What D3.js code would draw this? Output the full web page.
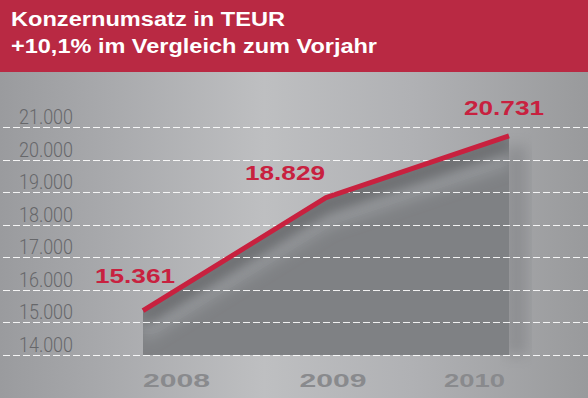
<!DOCTYPE html>
<html>
<head>
<meta charset="utf-8">
<script src="https://cdn.jsdelivr.net/npm/d3@7"></script>
<style>
  html, body { margin: 0; padding: 0; background: #fff; }
  svg { display: block; }
</style>
</head>
<body>
<figure id="chart" style="margin:0"></figure>
<script>
// data
const years = ["2008", "2009", "2010"];
const revenue = [15361, 18829, 20731];
const yTicks = [14000, 15000, 16000, 17000, 18000, 19000, 20000, 21000];
const titleLines = ["Konzernumsatz in TEUR", "+10,1% im Vergleich zum Vorjahr"];

const width = 588, height = 398;
const de = d3.formatLocale({ decimal: ",", thousands: ".", grouping: [3], currency: ["", " €"] });
const fmt = de.format(",d");

const svg = d3.select("#chart").append("svg")
  .attr("width", width).attr("height", height);

const defs = svg.append("defs");
const bg = defs.append("linearGradient").attr("id", "bg")
  .attr("x1", 0).attr("x2", 1).attr("y1", 0).attr("y2", 0);
[[0, "#9a9b9e"], [0.18, "#a8a9ac"], [0.45, "#bebfc1"], [0.7, "#b0b1b4"], [1, "#999a9c"]]
  .forEach(s => bg.append("stop").attr("offset", s[0]).attr("stop-color", s[1]));

defs.append("filter").attr("id", "blur").attr("x", "-20%").attr("y", "-50%")
  .attr("width", "140%").attr("height", "200%")
  .append("feGaussianBlur").attr("stdDeviation", 7);

svg.append("rect").attr("width", width).attr("height", height).attr("fill", "url(#bg)");

// scales
const x = d3.scalePoint().domain(years).range([143, 509]);
const y = d3.scaleLinear().domain([14000, 21000]).range([355, 127]);

const pts = years.map((yr, i) => ({ year: yr, value: revenue[i] }));

// area
const area = d3.area().x(d => x(d.year)).y0(y(14000)).y1(d => y(d.value));
const line = d3.line().x(d => x(d.year)).y(d => y(d.value));

defs.append("clipPath").attr("id", "areaClip")
  .append("path").attr("d", area(pts));

// shadow right of the area
svg.append("rect")
  .attr("x", x("2010") - 4).attr("y", y(20731) + 10)
  .attr("width", 22).attr("height", y(14000) - y(20731) - 10)
  .attr("fill", "#6f7174").attr("opacity", 0.4)
  .attr("filter", "url(#blur)");

svg.append("path").attr("d", area(pts)).attr("fill", "#7f8184");

const shade = svg.append("g").attr("clip-path", "url(#areaClip)");
shade.append("path")
  .attr("d", line(pts))
  .attr("transform", "translate(0,22)")
  .attr("fill", "none").attr("stroke", "#979a9d").attr("stroke-width", 16)
  .attr("filter", "url(#blur)");
shade.append("path")
  .attr("d", line(pts))
  .attr("transform", "translate(0,8)")
  .attr("fill", "none").attr("stroke", "#66686b").attr("stroke-width", 12)
  .attr("filter", "url(#blur)");

// gridlines
svg.append("g").selectAll("line").data(yTicks).join("line")
  .attr("x1", 3).attr("x2", width)
  .attr("y1", d => Math.round(y(d)) + 0.5).attr("y2", d => Math.round(y(d)) + 0.5)
  .attr("stroke", "#fff").attr("stroke-width", 1.2)
  .attr("stroke-dasharray", "7,3").attr("opacity", 0.9);

// tick labels
svg.append("g").selectAll("text").data(yTicks).join("text")
  .attr("x", 73).attr("y", d => y(d) - 3)
  .attr("text-anchor", "end")
  .attr("textLength", 54).attr("lengthAdjust", "spacingAndGlyphs")
  .style("font-family", "Roboto, 'Liberation Sans', sans-serif")
  .style("font-weight", 300).style("font-size", "20px")
  .attr("fill", "#66676a")
  .text(d => fmt(d));

// revenue line
svg.append("path").attr("d", line(pts))
  .attr("fill", "none").attr("stroke", "#c8213f").attr("stroke-width", 5)
  .attr("stroke-linejoin", "round");

// value labels
const labelDx = [-8, -41, -5];
const labelDy = [-28, -18, -21];
svg.append("g").selectAll("text").data(pts).join("text")
  .attr("x", (d, i) => x(d.year) + labelDx[i])
  .attr("y", (d, i) => y(d.value) + labelDy[i])
  .attr("text-anchor", "middle")
  .attr("textLength", 80).attr("lengthAdjust", "spacingAndGlyphs")
  .style("font-family", "'Liberation Sans', Arial, sans-serif")
  .style("font-weight", "bold").style("font-size", "20px")
  .attr("fill", "#c8213f")
  .text(d => fmt(d.value));

// year labels
const anchors = ["start", "middle", "end"];
const yearDx = [0, 7, -4];
svg.append("g").selectAll("text").data(years).join("text")
  .attr("x", (d, i) => x(d) + yearDx[i])
  .attr("y", 387)
  .attr("text-anchor", (d, i) => anchors[i])
  .attr("textLength", (d, i) => i === 2 ? 61 : 67).attr("lengthAdjust", "spacingAndGlyphs")
  .style("font-family", "'Liberation Sans', Arial, sans-serif")
  .style("font-weight", "bold").style("font-size", "19px")
  .attr("fill", "#898a8d")
  .text(d => d);

// title band
svg.append("rect").attr("width", width).attr("height", 72).attr("fill", "#b92943");
const titleLen = [274, 366];
svg.append("g").selectAll("text").data(titleLines).join("text")
  .attr("x", 11).attr("y", (d, i) => 26 + i * 27)
  .attr("textLength", (d, i) => titleLen[i]).attr("lengthAdjust", "spacingAndGlyphs")
  .style("font-family", "'Liberation Sans', Arial, sans-serif")
  .style("font-weight", "bold").style("font-size", "20px")
  .attr("fill", "#fff")
  .text(d => d);
</script>
</body>
</html>
